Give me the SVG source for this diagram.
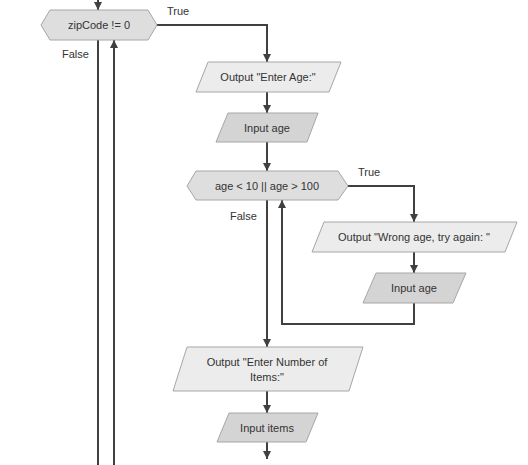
<svg xmlns="http://www.w3.org/2000/svg" width="528" height="465" viewBox="0 0 528 465">
<defs>
<marker id="ah" markerUnits="userSpaceOnUse" markerWidth="8" markerHeight="8" refX="8" refY="4" orient="auto">
<path d="M0,0 L8,4 L0,8 z" fill="#404040"/>
</marker>
<style>
.t{font-family:"Liberation Sans",Arial,sans-serif;font-size:11px;fill:#333;text-anchor:middle}
.l{font-family:"Liberation Sans",Arial,sans-serif;font-size:11px;fill:#333}
.out{fill:#ececec;stroke:#a6a6a6;stroke-width:1}
.inp{fill:#d4d4d4;stroke:#a6a6a6;stroke-width:1}
.dec{fill:#dedede;stroke:#a6a6a6;stroke-width:1}
.c{fill:none;stroke:#404040;stroke-width:2}
</style>
</defs>
<rect width="528" height="465" fill="#fff"/>
<g id="connectors">
<path class="c" d="M98,0 V10" marker-end="url(#ah)"/>
<path class="c" d="M157,25 H267 V62" marker-end="url(#ah)"/>
<path class="c" d="M267,92 V113" marker-end="url(#ah)"/>
<path class="c" d="M267,142 V171" marker-end="url(#ah)"/>
<path class="c" d="M348,186 H414 V222" marker-end="url(#ah)"/>
<path class="c" d="M414,252 V273" marker-end="url(#ah)"/>
<path class="c" d="M414,303 V324 H282 V200" marker-end="url(#ah)"/>
<path class="c" d="M267,200 V347" marker-end="url(#ah)"/>
<path class="c" d="M267,391 V413" marker-end="url(#ah)"/>
<path class="c" d="M267,442 V459" marker-end="url(#ah)"/>
<path class="c" d="M98,40 V465"/>
<path class="c" d="M114,465 V40" marker-end="url(#ah)"/>
<text class="l" x="167" y="15">True</text>
<text class="l" x="62" y="58">False</text>
<text class="l" x="358" y="176">True</text>
<text class="l" x="230" y="220">False</text>
</g>
<g id="zipDecision">
<polygon class="dec" points="41,25 50,10 148,10 157,25 148,40 50,40"/>
<text class="t" x="99" y="29">zipCode != 0</text>
</g>
<g id="outputAge">
<polygon class="out" points="208,62 341,62 329,92 196,92"/>
<text class="t" x="268" y="81">Output "Enter Age:"</text>
</g>
<g id="inputAge1">
<polygon class="inp" points="228,113 318,113 307,142 216,142"/>
<text class="t" x="267" y="132">Input age</text>
</g>
<g id="ageDecision">
<polygon class="dec" points="187,186 196,171 338,171 348,186 338,200 196,200"/>
<text class="t" x="267" y="190">age &lt; 10 || age &gt; 100</text>
</g>
<g id="outputWrong">
<polygon class="out" points="324,222 517,222 505,252 312,252"/>
<text class="t" x="414" y="241">Output "Wrong age, try again: "</text>
</g>
<g id="inputAge2">
<polygon class="inp" points="376,273 466,273 453,303 363,303"/>
<text class="t" x="414" y="292">Input age</text>
</g>
<g id="outputItems">
<polygon class="out" points="187,347 363,347 349,391 173,391"/>
<text class="t" x="267" y="366">Output "Enter Number of</text>
<text class="t" x="267" y="381">Items:"</text>
</g>
<g id="inputItems">
<polygon class="inp" points="229,413 318,413 306,442 217,442"/>
<text class="t" x="267" y="432">Input items</text>
</g>
</svg>
